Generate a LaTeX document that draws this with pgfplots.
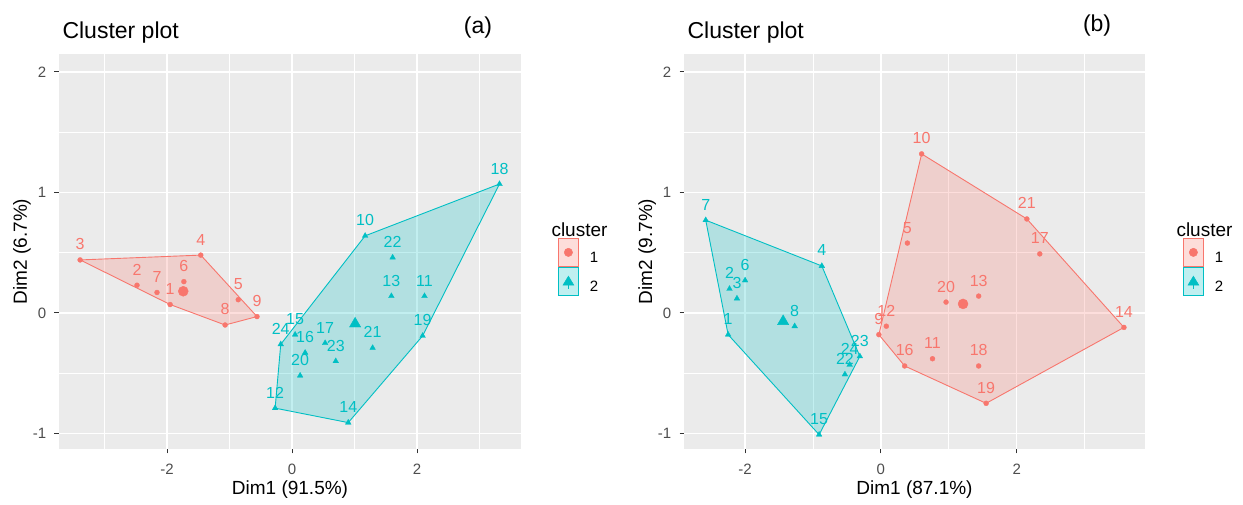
\documentclass[border=0pt]{standalone}
\usepackage{fontspec}
\setmainfont{Liberation Sans}
\usepackage{pgfplots}
\pgfplotsset{compat=1.18}
\usepackage{pgfplotstable}

\definecolor{cR}{HTML}{F8766D}
\definecolor{cC}{HTML}{00BFC4}
\definecolor{panelbg}{HTML}{EBEBEB}
\definecolor{tickc}{HTML}{4D4D4D}
\definecolor{tickm}{HTML}{333333}

% panel (a), cluster 1
\pgfplotstableread{
x y lab
-1.95 0.07 1
-2.48 0.23 2
-3.39 0.44 3
-1.46 0.48 4
-0.86 0.11 5
-1.73 0.26 6
-2.16 0.17 7
-1.07 -0.10 8
-0.56 -0.03 9
}\aRed
% panel (a), cluster 2
\pgfplotstableread{
x y lab
1.17 0.64 10
2.12 0.14 11
-0.27 -0.79 12
1.59 0.14 13
0.90 -0.91 14
0.05 -0.18 15
0.21 -0.33 16
0.53 -0.25 17
3.32 1.07 18
2.09 -0.19 19
0.13 -0.52 20
1.29 -0.29 21
1.61 0.46 22
0.70 -0.40 23
-0.18 -0.26 24
}\aCyan
% panel (b), cluster 1
\pgfplotstableread{
x y lab
0.39 0.58 5
-0.03 -0.18 9
0.60 1.32 10
0.76 -0.38 11
0.08 -0.11 12
1.44 0.14 13
3.58 -0.12 14
0.35 -0.44 16
2.34 0.49 17
1.44 -0.44 18
1.55 -0.75 19
0.96 0.09 20
2.15 0.78 21
}\bRed
% panel (b), cluster 2
\pgfplotstableread{
x y lab
-2.25 -0.18 1
-2.23 0.20 2
-2.12 0.12 3
-0.87 0.39 4
-2.00 0.27 6
-2.58 0.77 7
-1.27 -0.11 8
-0.91 -1.01 15
-0.53 -0.51 22
-0.31 -0.36 23
-0.46 -0.43 24
}\bCyan

\pgfplotsset{
  clusterax/.style={
    width=462pt, height=395pt, scale only axis, clip=false,
    ymin=-1.129, ymax=2.149,
    axis background/.style={fill=panelbg},
    axis line style={draw=none},
    grid=both,
    major grid style={white, line width=1.6pt},
    minor grid style={white, line width=0.8pt},
    xtick={-2,0,2}, xticklabels={-2,0,2},
    ytick={-1,0,1,2}, yticklabels={-1,0,1,2},
    minor xtick={-3,-1,1,3}, minor ytick={-0.5,0.5,1.5},
    xtick pos=bottom, ytick pos=left,
    tick align=outside, major tick length=4.5pt, minor tick length=0pt,
    tick style={tickm, line width=0.9pt},
    ticklabel style={font=\fontsize{15}{18}\selectfont, text=tickc, inner sep=0pt},
    xticklabel style={anchor=north, yshift=-10pt},
    yticklabel style={anchor=east, xshift=-8pt},
    xlabel style={font=\fontsize{19}{22}\selectfont, at={(axis description cs:0.5,-0.104)}, anchor=center},
    ylabel style={font=\fontsize{19}{22}\selectfont, at={(axis description cs:-0.080,0.5)}, anchor=center},
    legend cell align=left,
    legend style={draw=none, fill=none, inner sep=0pt, outer sep=0pt, row sep=0pt,
      font=\fontsize{15}{18}\selectfont,
      nodes={inner sep=0pt, outer sep=0pt},
      /tikz/every odd column/.append style={column sep=11pt}},
  },
  hullR/.style={draw=cR, fill=cR, fill opacity=0.24, draw opacity=1, line width=0.9pt, forget plot},
  hullC/.style={draw=cC, fill=cC, fill opacity=0.24, draw opacity=1, line width=0.9pt, forget plot},
  ptsR/.style={only marks, mark=*, mark size=2.5pt, color=cR, forget plot,
    mark options={line width=0.3pt},
    nodes near coords, point meta=explicit symbolic,
    every node near coord/.style={font=\fontsize{16}{19}\selectfont, text=cR, anchor=base, inner sep=0pt, yshift=10pt}},
  ptsC/.style={only marks, mark=triangle*, mark size=3.3pt, color=cC, forget plot,
    mark options={line width=0.3pt},
    nodes near coords, point meta=explicit symbolic,
    every node near coord/.style={font=\fontsize{16}{19}\selectfont, text=cC, anchor=base, inner sep=0pt, yshift=10pt}},
  keyR/.style={legend image code/.code={
      \draw[draw=cR, fill=cR!25, line width=0.8pt] (0pt,-8.6pt) rectangle (20pt,19.4pt);
      \fill[cR] (10pt,5.4pt) circle (4.2pt);}},
  keyC/.style={legend image code/.code={
      \draw[draw=cC, fill=cC!25, line width=0.8pt] (0pt,-8.6pt) rectangle (20pt,19.4pt);
      \fill[cC] (4.5pt,1.4pt) -- (15.5pt,1.4pt) -- (10pt,10.5pt) -- cycle;
      \draw[cC, line width=1.2pt] (10pt,1.4pt) -- (10pt,-2.5pt);}},
}

\begin{document}
\begin{tikzpicture}
\path[use as bounding box] (0pt,0pt) rectangle (1243pt,505pt);

% ---------------- panel (a)
\begin{axis}[clusterax, at={(59pt,56pt)}, anchor=south west,
  xmin=-3.728, xmax=3.664,
  xlabel={Dim1 (91.5\%)}, ylabel={Dim2 (6.7\%)},
  legend style={at={(axis description cs:1.0801,0.5342)}, anchor=north west}]
\addplot[hullR] coordinates {(-3.39,0.44) (-1.46,0.48) (-0.56,-0.03) (-1.07,-0.10) (-1.95,0.07) (-3.39,0.44)};
\addplot[hullC] coordinates {(3.32,1.07) (1.17,0.64) (-0.18,-0.26) (-0.27,-0.79) (0.90,-0.91) (2.09,-0.19) (3.32,1.07)};
\addplot[ptsR] table[x=x, y=y, meta=lab] {\aRed};
\addplot[ptsC] table[x=x, y=y, meta=lab] {\aCyan};
\addplot[only marks, mark=*, mark size=5pt, color=cR, forget plot] coordinates {(-1.74,0.18)};
\addplot[only marks, mark=triangle*, mark size=6.5pt, color=cC, forget plot] coordinates {(1.01,-0.09)};
\addlegendimage{keyR}
\addlegendimage{keyC}
\legend{1,2}
\node[anchor=west, font=\fontsize{23}{27}\selectfont, text=black] at (axis description cs:0,1.0532) {Cluster plot};
\node[font=\fontsize{23}{27}\selectfont, text=black] at (axis description cs:0.907,1.0658) {(a)};
\node[anchor=west, font=\fontsize{19}{22}\selectfont, text=black] at (axis description cs:1.0584,0.5544) {cluster};
\end{axis}

% ---------------- panel (b)
\begin{axis}[clusterax, at={(684pt,56pt)}, anchor=south west, width=461pt,
  xmin=-2.90, xmax=3.89,
  xlabel={Dim1 (87.1\%)}, ylabel={Dim2 (9.7\%)},
  legend style={at={(axis description cs:1.0824,0.5342)}, anchor=north west}]
\addplot[hullR] coordinates {(0.60,1.32) (2.15,0.78) (3.58,-0.12) (1.55,-0.75) (0.35,-0.44) (-0.03,-0.18) (0.60,1.32)};
\addplot[hullC] coordinates {(-2.58,0.77) (-0.87,0.39) (-0.31,-0.36) (-0.91,-1.01) (-2.25,-0.18) (-2.58,0.77)};
\addplot[ptsR] table[x=x, y=y, meta=lab] {\bRed};
\addplot[ptsC] table[x=x, y=y, meta=lab] {\bCyan};
\addplot[only marks, mark=*, mark size=5pt, color=cR, forget plot] coordinates {(1.21,0.075)};
\addplot[only marks, mark=triangle*, mark size=6.5pt, color=cC, forget plot] coordinates {(-1.44,-0.07)};
\addlegendimage{keyR}
\addlegendimage{keyC}
\legend{1,2}
\node[anchor=west, font=\fontsize{23}{27}\selectfont, text=black] at (axis description cs:0,1.0532) {Cluster plot};
\node[font=\fontsize{23}{27}\selectfont, text=black] at (axis description cs:0.896,1.072) {(b)};
\node[anchor=west, font=\fontsize{19}{22}\selectfont, text=black] at (axis description cs:1.0607,0.5544) {cluster};
\end{axis}
\end{tikzpicture}
\end{document}
